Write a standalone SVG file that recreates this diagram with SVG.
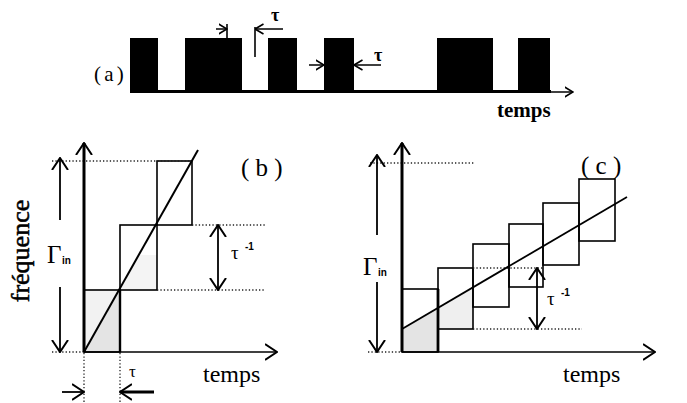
<svg xmlns="http://www.w3.org/2000/svg" width="687" height="403" viewBox="0 0 687 403">
<defs>
<style>
.ln{stroke:#000;fill:none}
.dot{stroke:#222;stroke-width:1.3;stroke-dasharray:1.3 2.1;fill:none}
.box{stroke:#000;stroke-width:1.6;fill:none}
.pulse{fill:#000}
.t{font-family:"Liberation Serif","Times New Roman",serif;fill:#000}
.s{font-family:"Liberation Sans",Arial,sans-serif;font-weight:bold;fill:#000}
.shade{fill:#e4e4e4}
</style>
<marker id="big" viewBox="0 0 13 18" refX="12" refY="9" markerWidth="13" markerHeight="18" markerUnits="userSpaceOnUse" orient="auto-start-reverse">
<path d="M0,1 L12,9 L0,17" fill="none" stroke="#000" stroke-width="2"/>
</marker>
<marker id="sm" viewBox="0 0 9 12" refX="8.5" refY="6" markerWidth="9" markerHeight="12" markerUnits="userSpaceOnUse" orient="auto-start-reverse">
<path d="M0,1 L8.5,6 L0,11" fill="none" stroke="#000" stroke-width="1.6"/>
</marker>
</defs>
<rect width="687" height="403" fill="#fff"/>

<g id="panel-a">
<text class="t" x="94" y="81" font-size="21" word-spacing="-2" xml:space="preserve">( a )</text>
<rect class="pulse" x="130" y="38" width="28" height="55"/>
<rect class="pulse" x="185" y="38" width="57" height="55"/>
<rect class="pulse" x="268" y="38" width="29" height="55"/>
<rect class="pulse" x="324" y="38" width="30" height="55"/>
<rect class="pulse" x="437" y="38" width="56" height="55"/>
<rect class="pulse" x="518" y="38" width="32" height="55"/>
<text class="t" x="497" y="117" font-size="21" font-weight="bold">temps</text>
</g>

<g id="panel-b">
<rect x="85" y="290" width="35" height="62" fill="#f2f2f2"/>
<polygon class="shade" points="85,352 120,290 120,352"/>
<polygon points="120,290 140,255 157,255 157,290" fill="#f4f4f4"/>
<rect class="box" x="84" y="290" width="36" height="62"/>
<rect class="box" x="120" y="225" width="37" height="65"/>
<rect class="box" x="157" y="161" width="35" height="64"/>
<text class="t" x="241" y="176" font-size="25" xml:space="preserve">( b )</text>
<text class="t" x="47" y="263" font-size="25">Γ</text>
<text class="s" x="62" y="264" font-size="10">in</text>
<text class="t" x="231" y="259" font-size="19">τ</text>
<text class="s" x="245" y="250" font-size="10">-1</text>
<text class="t" x="129" y="377" font-size="17">τ</text>
<text class="t" x="203" y="382" font-size="24">temps</text>
<text class="t" font-size="26" stroke="#000" stroke-width="0.5" text-anchor="middle" transform="translate(29,251) rotate(-90)">fréquence</text>
</g>

<g id="panel-c">
<polygon class="shade" points="403,329 438,308 438,352 403,352"/>
<polygon class="shade" points="438,308 473,288 473,329 438,329" opacity="0.6"/>
<rect class="box" x="402" y="289" width="36" height="63"/>
<rect class="box" x="438" y="268" width="35" height="61"/>
<rect class="box" x="473" y="244" width="36" height="63"/>
<rect class="box" x="509" y="224" width="34" height="63"/>
<rect class="box" x="543" y="203" width="36" height="62"/>
<rect class="box" x="579" y="179" width="36" height="62"/>
<text class="t" x="581" y="174" font-size="25" xml:space="preserve">( c )</text>
<text class="t" x="363" y="275" font-size="25">Γ</text>
<text class="s" x="378" y="276" font-size="10">in</text>
<text class="t" x="547" y="305" font-size="19">τ</text>
<text class="s" x="561" y="296" font-size="10">-1</text>
<text class="t" x="563" y="382" font-size="24">temps</text>
</g>

<g id="connectors">
<line class="ln" x1="130" y1="91.5" x2="551" y2="91.5" stroke-width="3.2"/>
<line class="ln" x1="549" y1="92" x2="573" y2="92" stroke-width="1.5" marker-end="url(#sm)"/>
<line class="ln" x1="216" y1="29" x2="227" y2="29" stroke-width="1.5" marker-end="url(#sm)"/>
<line class="ln" x1="227" y1="24" x2="227" y2="38" stroke-width="1.6"/>
<line class="ln" x1="255" y1="27" x2="255" y2="57" stroke-width="1.6"/>
<line class="ln" x1="283" y1="29" x2="255" y2="29" stroke-width="1.5" marker-end="url(#sm)"/>
<text class="t" x="271" y="21" font-size="18" font-weight="bold">τ</text>
<line class="ln" x1="309" y1="65" x2="324" y2="65" stroke-width="1.5" marker-end="url(#sm)"/>
<line class="ln" x1="381" y1="65" x2="354" y2="65" stroke-width="1.5" marker-end="url(#sm)"/>
<text class="t" x="374" y="61" font-size="18" font-weight="bold">τ</text>
<line class="dot" x1="52" y1="161" x2="192" y2="161"/>
<line class="dot" x1="52" y1="352" x2="84" y2="352"/>
<line class="dot" x1="192" y1="225" x2="265" y2="225"/>
<line class="dot" x1="157" y1="290" x2="265" y2="290"/>
<line class="dot" x1="84" y1="353" x2="84" y2="403"/>
<line class="dot" x1="120" y1="353" x2="120" y2="403"/>
<line class="ln" x1="84" y1="352" x2="84" y2="143" stroke-width="3" marker-end="url(#big)"/>
<line class="ln" x1="84" y1="352" x2="277" y2="352" stroke-width="1.6" marker-end="url(#big)"/>
<line class="ln" x1="120" y1="290" x2="120" y2="352" stroke-width="2.4"/>
<line class="ln" x1="84" y1="352" x2="198" y2="150" stroke-width="2"/>
<line class="ln" x1="60" y1="220" x2="60" y2="158" stroke-width="1.8" marker-end="url(#big)"/>
<line class="ln" x1="60" y1="287" x2="60" y2="352" stroke-width="1.8" marker-end="url(#big)"/>
<line class="ln" x1="218" y1="225" x2="218" y2="290" stroke-width="1.8" marker-start="url(#big)" marker-end="url(#big)"/>
<line class="ln" x1="62" y1="392" x2="84" y2="392" stroke-width="1.8" marker-end="url(#big)"/>
<line class="ln" x1="154" y1="392" x2="120" y2="392" stroke-width="3" marker-end="url(#big)"/>
<line class="dot" x1="370" y1="163" x2="475" y2="163"/>
<line class="dot" x1="368" y1="352" x2="402" y2="352"/>
<line class="dot" x1="473" y1="268" x2="543" y2="268"/>
<line class="dot" x1="473" y1="329" x2="582" y2="329"/>
<line class="ln" x1="402" y1="352" x2="402" y2="143" stroke-width="3" marker-end="url(#big)"/>
<line class="ln" x1="402" y1="352" x2="655" y2="352" stroke-width="1.6" marker-end="url(#big)"/>
<line class="ln" x1="438" y1="289" x2="438" y2="352" stroke-width="2.8"/>
<line class="ln" x1="402" y1="329" x2="627" y2="197" stroke-width="1.8"/>
<line class="ln" x1="377" y1="235" x2="377" y2="155" stroke-width="1.8" marker-end="url(#big)"/>
<line class="ln" x1="377" y1="282" x2="377" y2="352" stroke-width="1.8" marker-end="url(#big)"/>
<line class="ln" x1="537" y1="268" x2="537" y2="329" stroke-width="1.8" marker-start="url(#big)" marker-end="url(#big)"/>
</g>
</svg>
